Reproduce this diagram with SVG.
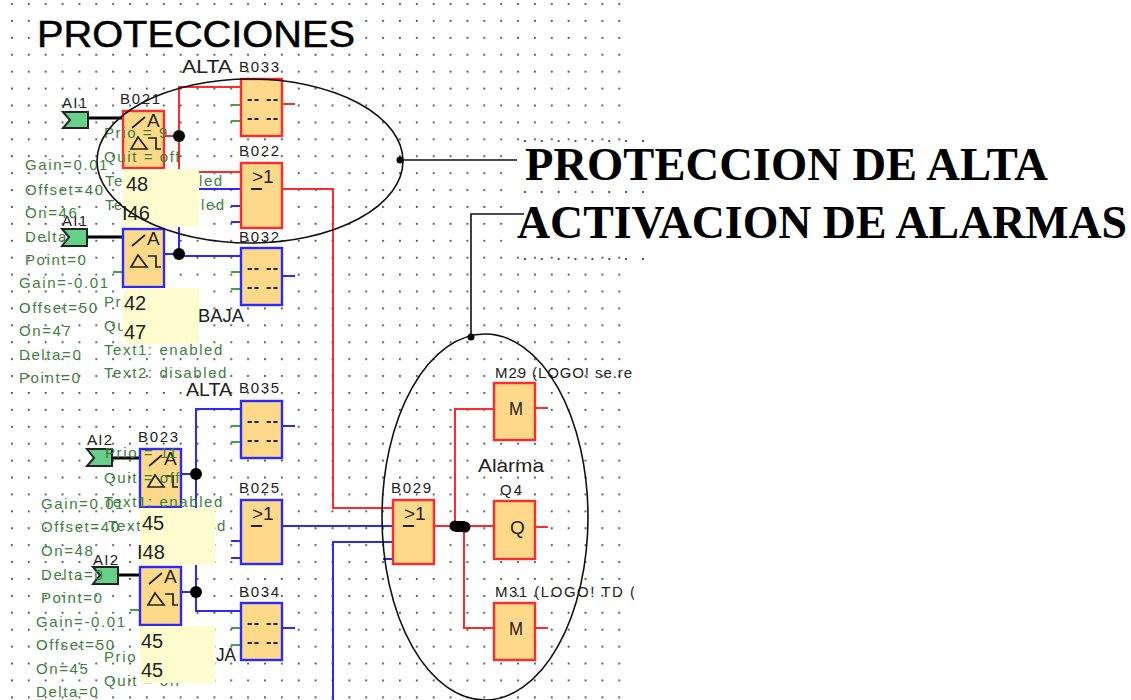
<svg xmlns="http://www.w3.org/2000/svg" width="1131" height="700" viewBox="0 0 1131 700">
<style>
text{font-family:"Liberation Sans",Arial,sans-serif;fill:#222}
.lb{font-size:15px}
.lg{font-size:18px}
.h{font-size:19px}
.da{font-size:16px;font-weight:bold}
.g{font-size:15px;fill:#3c7f3c;letter-spacing:1.6px}
.y{font-size:20px;fill:#222}
.bk{fill:#ffd98a;stroke-width:2.4}
.rb{stroke:#ff2a2a}
.bb{stroke:#2a2aff}
.r{fill:none;stroke:#ff2a2a;stroke-width:2}
.b{fill:none;stroke:#2a2aff;stroke-width:2}
.gn{fill:none;stroke:#3fa53f;stroke-width:2}
.k{fill:none;stroke:#000;stroke-width:3}
.t{fill:none;stroke:#111;stroke-width:1.6}
.ai{fill:#66d08a;stroke:#222;stroke-width:2}
.sym{fill:none;stroke:#222;stroke-width:1.7}
.d{fill:#000}
.row{fill:none;stroke:#444;stroke-width:1.8;stroke-dasharray:1.8 15.07}
.bar{fill:none;stroke:#222;stroke-width:2}
.big{font-family:"Liberation Serif","Times New Roman",serif;font-weight:bold;fill:#000;font-size:46px}
</style>
<defs>
<pattern id="dots" patternUnits="userSpaceOnUse" x="11" y="20" width="16.87" height="16.91">
<rect width="1.8" height="1.8" fill="#444"/>
</pattern>
<g id="thr"><path class="sym" d="M9 17L22 6M8 38L15 26L24 38ZM25 27H33V38H38"/></g>
<clipPath id="lim"><rect x="480" y="360" width="154" height="250"/></clipPath>
</defs>
<rect width="1131" height="700" fill="#fff"/>
<g id="grid">
<rect x="0" y="0" width="625" height="700" fill="url(#dots)"/>
<rect x="32" y="14" width="328" height="35" fill="#fff"/>
<rect x="505" y="145" width="130" height="110" fill="#fff"/>
<path class="row" d="M524 141H644M524 192H644M524 259H644"/>
</g>
<g id="connectors">
<path class="k" d="M88 118H123M87 237H123M112 458H140M118 575H140"/>
<path class="r" d="M164 136H179M241 87H179V172H241M282 189H333V508H393M434 526H494M241 172H199"/>
<path class="b" d="M164 254H179V189H241M179 256H241M282 526H393M181 474H196M241 409H196V611H241M181 592H196M333 700V542H393M383 559H393"/>
<path class="r" d="M455 526V409H494M464 526V628H494M535 408H548M535 527H548M535 628H548M282 104H295"/>
<path class="b" d="M231 206H241M231 222H241M231 541H241M231 558H241M282 276H295M282 426H295M282 628H295"/>
<path class="gn" d="M231 105H241M231 121H241M231 272H241M231 289H241M231 426H241M231 442H241M231 628H241M231 645H241M113 272H123M130 610H140"/>
<path class="t" d="M400 160H517M471 337V214H524"/>
<circle class="d" cx="179" cy="136" r="6"/><circle class="d" cx="179" cy="254" r="6"/>
<circle class="d" cx="196" cy="474" r="6"/><circle class="d" cx="196" cy="592" r="6"/>
<circle class="d" cx="455" cy="526" r="5.5"/><circle class="d" cx="465" cy="527" r="5.5"/><rect class="d" x="455" y="521" width="10" height="11"/>
<circle class="d" cx="400" cy="160" r="3.5"/><circle class="d" cx="471" cy="337" r="3.5"/>
</g>
<g id="B021"><rect class="bk rb" x="123" y="111" width="41" height="57"/><use href="#thr" x="123" y="111"/><text class="h" x="147" y="127">A</text><text class="lb" x="120" y="104" textLength="40">B021</text></g>
<g id="B1"><rect class="bk bb" x="123" y="229" width="41" height="58"/><use href="#thr" x="123" y="229"/><text class="h" x="147" y="245">A</text></g>
<g id="B023"><rect class="bk bb" x="140" y="449" width="41" height="58"/><use href="#thr" x="140" y="449"/><text class="h" x="164" y="465">A</text><text class="lb" x="138" y="442" textLength="40">B023</text></g>
<g id="B2"><rect class="bk bb" x="140" y="567" width="41" height="58"/><use href="#thr" x="140" y="567"/><text class="h" x="164" y="583">A</text></g>
<g id="B033"><rect class="bk rb" x="241" y="79" width="41" height="57"/><text class="da" x="247" y="104" textLength="31">-- --</text><text class="da" x="247" y="123" textLength="31">-- --</text><text class="lb" x="239" y="72" textLength="40">B033</text></g>
<g id="B022"><rect class="bk rb" x="241" y="163" width="41" height="65"/><text class="h" x="252" y="183">&gt;1</text><path class="bar" d="M251 189H262"/><text class="lb" x="239" y="156" textLength="40">B022</text></g>
<g id="B032"><rect class="bk bb" x="241" y="248" width="41" height="57"/><text class="da" x="247" y="273" textLength="31">-- --</text><text class="da" x="247" y="292" textLength="31">-- --</text><text class="lb" x="239" y="242" textLength="40">B032</text></g>
<g id="B035"><rect class="bk bb" x="241" y="401" width="41" height="57"/><text class="da" x="247" y="426" textLength="31">-- --</text><text class="da" x="247" y="445" textLength="31">-- --</text><text class="lb" x="239" y="393" textLength="40">B035</text></g>
<g id="B025"><rect class="bk bb" x="241" y="500" width="41" height="64"/><text class="h" x="252" y="520">&gt;1</text><path class="bar" d="M251 526H262"/><text class="lb" x="239" y="493" textLength="40">B025</text></g>
<g id="B034"><rect class="bk bb" x="241" y="603" width="41" height="57"/><text class="da" x="247" y="628" textLength="31">-- --</text><text class="da" x="247" y="647" textLength="31">-- --</text><text class="lb" x="239" y="597" textLength="40">B034</text></g>
<g id="B029"><rect class="bk rb" x="393" y="500" width="41" height="64"/><text class="h" x="404" y="520">&gt;1</text><path class="bar" d="M403 526H414"/><text class="lb" x="391" y="493" textLength="40">B029</text></g>
<g id="M29"><rect class="bk rb" x="494" y="383" width="41" height="57"/><text class="h" x="509" y="415" textLength="14" lengthAdjust="spacingAndGlyphs">M</text><text class="lb" x="495" y="378" textLength="137">M29 (LOGO! se.re</text></g>
<g id="Q4"><rect class="bk rb" x="494" y="501" width="41" height="58"/><text class="h" x="510" y="534">Q</text><text class="lb" x="500" y="495" textLength="22">Q4</text></g>
<g id="M31"><rect class="bk rb" x="494" y="603" width="41" height="57"/><text class="h" x="509" y="635" textLength="14" lengthAdjust="spacingAndGlyphs">M</text><text class="lb" x="495" y="597" textLength="140" clip-path="url(#lim)">M31 (LOGO! TD (</text></g>
<g id="AI1a"><path class="ai" d="M63 112H88V128H63L70 120Z"/><text class="lb" x="62" y="108" textLength="25">AI1</text></g>
<g id="AI1b"><path class="ai" d="M62 229H87V246H62L69 237Z"/><text class="lb" x="62" y="226" textLength="25">AI1</text></g>
<g id="AI2a"><path class="ai" d="M87 449H112V466H87L94 458Z"/><text class="lb" x="87" y="445" textLength="25">AI2</text></g>
<g id="AI2b"><path class="ai" d="M93 567H118V584H93L100 575Z"/><text class="lb" x="93" y="565" textLength="25">AI2</text></g>
<g id="params">
<text class="g" x="25" y="170">Gain=0.01</text><text class="g" x="25" y="195">Offset=40</text><text class="g" x="25" y="218">On=46</text><text class="g" x="25" y="242">Delta</text><text class="g" x="25" y="265">Point=0</text>
<text class="g" x="19" y="288">Gain=-0.01</text><text class="g" x="19" y="313">Offset=50</text><text class="g" x="19" y="336">On=47</text><text class="g" x="19" y="360">Delta=0</text><text class="g" x="19" y="383">Point=0</text>
<text class="g" x="41" y="509">Gain=0.01</text><text class="g" x="41" y="532">Offset=40</text><text class="g" x="41" y="556">On=48</text><text class="g" x="41" y="580">Delta=0</text><text class="g" x="41" y="603">Point=0</text>
<text class="g" x="36" y="627">Gain=-0.01</text><text class="g" x="36" y="650">Offset=50</text><text class="g" x="36" y="674">On=45</text><text class="g" x="36" y="697">Delta=0</text>
<text class="g" x="104" y="138">Prio = 9</text><text class="g" x="104" y="162">Quit = off</text><text class="g" x="105" y="186">Te</text><text class="g" x="199" y="186">led</text><text class="g" x="105" y="210">Te</text><text class="g" x="201" y="210">led</text>
<text class="g" x="104" y="307">Pri</text><text class="g" x="104" y="331">Qu</text><text class="g" x="104" y="355">Text1: enabled</text><text class="g" x="104" y="378">Text2: disabled</text>
<text class="g" x="105" y="458">Prio = 11</text><text class="g" x="104" y="483">Quit = off</text><text class="g" x="104" y="507">Text1: enabled</text><text class="g" x="108" y="531">Text</text><text class="g" x="217" y="531">d</text>
<text class="g" x="104" y="662">Prio</text><text class="g" x="104" y="686">Quit = off</text>
</g>
<g id="values">
<rect x="123" y="169" width="76" height="58" fill="#fffdd0"/><text class="y" x="126" y="191">48</text><text class="y" x="122" y="220">I46</text>
<rect x="123" y="288" width="76" height="56" fill="#fffdd0"/><text class="y" x="124" y="310">42</text><text class="y" x="124" y="339">47</text>
<rect x="140" y="508" width="75" height="57" fill="#fffdd0"/><text class="y" x="142" y="530">45</text><text class="y" x="137" y="559">I48</text>
<rect x="140" y="626" width="75" height="57" fill="#fffdd0"/><text class="y" x="141" y="648">45</text><text class="y" x="141" y="677">45</text>
</g>
<g id="zones">
<ellipse class="t" cx="250" cy="161" rx="153" ry="82"/>
<ellipse class="t" cx="485" cy="517" rx="103" ry="183"/>
</g>
<g id="labels">
<text x="37" y="47" font-size="37" textLength="318" lengthAdjust="spacingAndGlyphs" style="fill:#000;stroke:#000;stroke-width:.5">PROTECCIONES</text>
<text class="lg" x="182" y="73" textLength="50" lengthAdjust="spacingAndGlyphs">ALTA</text>
<text class="lg" x="198" y="322" textLength="46" lengthAdjust="spacingAndGlyphs">BAJA</text>
<text class="lg" x="186" y="396" textLength="46" lengthAdjust="spacingAndGlyphs">ALTA</text>
<text class="lg" x="216" y="661" textLength="20" lengthAdjust="spacingAndGlyphs">JA</text>
<text class="lg" x="478" y="472" textLength="66" lengthAdjust="spacingAndGlyphs">Alarma</text>
<text class="big" x="525" y="180" textLength="523" lengthAdjust="spacingAndGlyphs">PROTECCION DE ALTA</text>
<text class="big" x="517" y="238" textLength="610" lengthAdjust="spacingAndGlyphs">ACTIVACION DE ALARMAS</text>
</g>
</svg>
